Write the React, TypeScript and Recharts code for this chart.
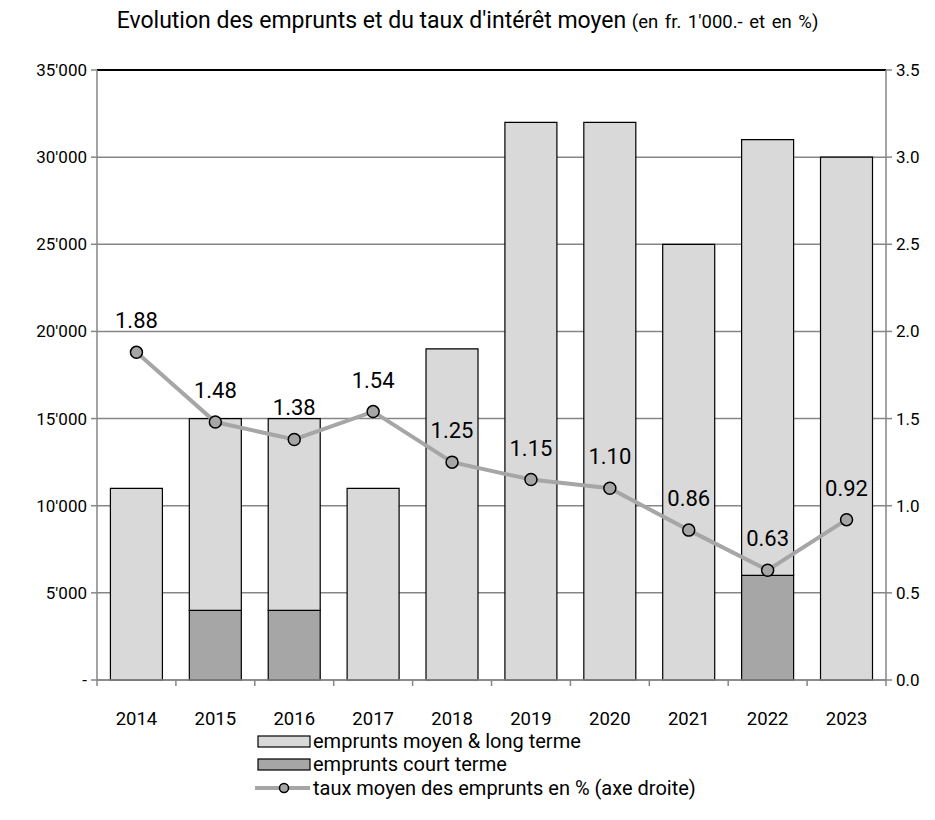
import React from "react";
import {
  ComposedChart,
  Bar,
  Line,
  XAxis,
  YAxis,
  CartesianGrid,
  LabelList,
  ReferenceLine,
} from "recharts";

const years = ["2014", "2015", "2016", "2017", "2018", "2019", "2020", "2021", "2022", "2023"];
const longTerm = [11000, 11000, 11000, 11000, 19000, 32000, 32000, 25000, 25000, 30000];
const shortTerm = [0, 4000, 4000, 0, 0, 0, 0, 0, 6000, 0];
const rate = [1.88, 1.48, 1.38, 1.54, 1.25, 1.15, 1.1, 0.86, 0.63, 0.92];
const leftTicks = [0, 5000, 10000, 15000, 20000, 25000, 30000, 35000];
const rightTicks = [0, 0.5, 1, 1.5, 2, 2.5, 3, 3.5];

const data = years.map((year, i) => ({
  year,
  long: longTerm[i],
  short: shortTerm[i],
  rate: rate[i],
}));

const W = 935;
const H = 820;
const LEFT_W = 97;
const RIGHT_W = 49;
const margin = { top: 70, right: 0, bottom: 100, left: 0 };
const halfBand = (W - LEFT_W - RIGHT_W) / years.length / 2;

const FONT = "Roboto, 'Liberation Sans', Arial, sans-serif";
const GRID = "#868686";
const LIGHT = "#d9d9d9";
const DARK = "#a6a6a6";

// thousands with apostrophe, zero shown as a dash
const fmtLeft = (v: number) =>
  v === 0 ? "-" : v.toLocaleString("en-US").replace(/,/g, "'");

const YearTick = (props: any) => {
  const { x, y, payload, index } = props;
  return (
    <g>
      <line x1={x - halfBand} x2={x - halfBand} y1={y - 8} y2={y - 2} stroke={GRID} strokeWidth={1.5} />
      {index === years.length - 1 && (
        <line x1={x + halfBand} x2={x + halfBand} y1={y - 8} y2={y - 2} stroke={GRID} strokeWidth={1.5} />
      )}
      <text x={x} y={y + 37} textAnchor="middle" fontSize={18.5} fill="#000" fontFamily={FONT}>
        {payload.value}
      </text>
    </g>
  );
};

export default function App() {
  return (
    <div style={{ position: "absolute", left: 0, top: 0, width: W, height: H, background: "#fff", fontFamily: FONT }}>
      <div
        style={{
          position: "absolute",
          top: 7,
          left: 0,
          width: W,
          textAlign: "center",
          fontSize: 23,
          color: "#000",
          whiteSpace: "nowrap",
        }}
      >
        Evolution des emprunts et du taux d'intérêt moyen{" "}
        <span style={{ fontSize: 18.5, wordSpacing: 2 }}>(en fr. 1'000.- et en %)</span>
      </div>

      <ComposedChart width={W} height={H} data={data} margin={margin} barCategoryGap="17%">
        <CartesianGrid vertical={false} stroke={GRID} strokeWidth={1.5} yAxisId="left" />
        <XAxis
          dataKey="year"
          tick={<YearTick />}
          tickLine={false}
          axisLine={{ stroke: GRID, strokeWidth: 1.5 }}
          interval={0}
          height={40}
        />
        <YAxis
          yAxisId="left"
          width={LEFT_W}
          domain={[0, 35000]}
          ticks={leftTicks}
          tickFormatter={fmtLeft}
          tickSize={6}
          tickMargin={4}
          tickLine={{ stroke: GRID, strokeWidth: 1.5 }}
          axisLine={{ stroke: GRID, strokeWidth: 1.5 }}
          tick={{ fontSize: 17, fill: "#000", fontFamily: FONT }}
        />
        <YAxis
          yAxisId="right"
          orientation="right"
          width={RIGHT_W}
          domain={[0, 3.5]}
          ticks={rightTicks}
          tickFormatter={(v: number) => v.toFixed(1)}
          tickSize={6}
          tickMargin={4}
          tickLine={{ stroke: GRID, strokeWidth: 1.5 }}
          axisLine={{ stroke: GRID, strokeWidth: 1.5 }}
          tick={{ fontSize: 17, fill: "#000", fontFamily: FONT }}
        />
        <ReferenceLine yAxisId="left" y={35000} stroke="#000" strokeWidth={2} />

        <Bar yAxisId="left" dataKey="short" stackId="a" fill={DARK} stroke="#000" strokeWidth={1.2} isAnimationActive={false} />
        <Bar yAxisId="left" dataKey="long" stackId="a" fill={LIGHT} stroke="#000" strokeWidth={1.2} isAnimationActive={false} />

        <Line
          yAxisId="right"
          dataKey="rate"
          stroke={DARK}
          strokeWidth={4}
          dot={{ r: 6, fill: DARK, stroke: "#000", strokeWidth: 1.5 }}
          isAnimationActive={false}
        >
          <LabelList
            dataKey="rate"
            position="top"
            offset={24}
            formatter={(v: any) => Number(v).toFixed(2)}
            style={{ fontSize: 22, fill: "#000", fontFamily: FONT }}
          />
        </Line>
      </ComposedChart>

      {/* legend */}
      <svg style={{ position: "absolute", left: 255, top: 730 }} width={480} height={76}>
        <rect x={3} y={6} width={52} height={11} fill={LIGHT} stroke="#000" strokeWidth={1.2} />
        <text x={58} y={18} fontSize={20} fontFamily={FONT} fill="#000">emprunts moyen &amp; long terme</text>
        <rect x={3} y={29} width={52} height={11} fill={DARK} stroke="#000" strokeWidth={1.2} />
        <text x={58} y={41} fontSize={20} fontFamily={FONT} fill="#000">emprunts court terme</text>
        <line x1={0} x2={55} y1={58} y2={58} stroke={DARK} strokeWidth={4} />
        <circle cx={29} cy={58} r={4.5} fill={DARK} stroke="#000" strokeWidth={1.5} />
        <text x={58} y={65} fontSize={20} fontFamily={FONT} fill="#000">taux moyen des emprunts en % (axe droite)</text>
      </svg>
    </div>
  );
}
